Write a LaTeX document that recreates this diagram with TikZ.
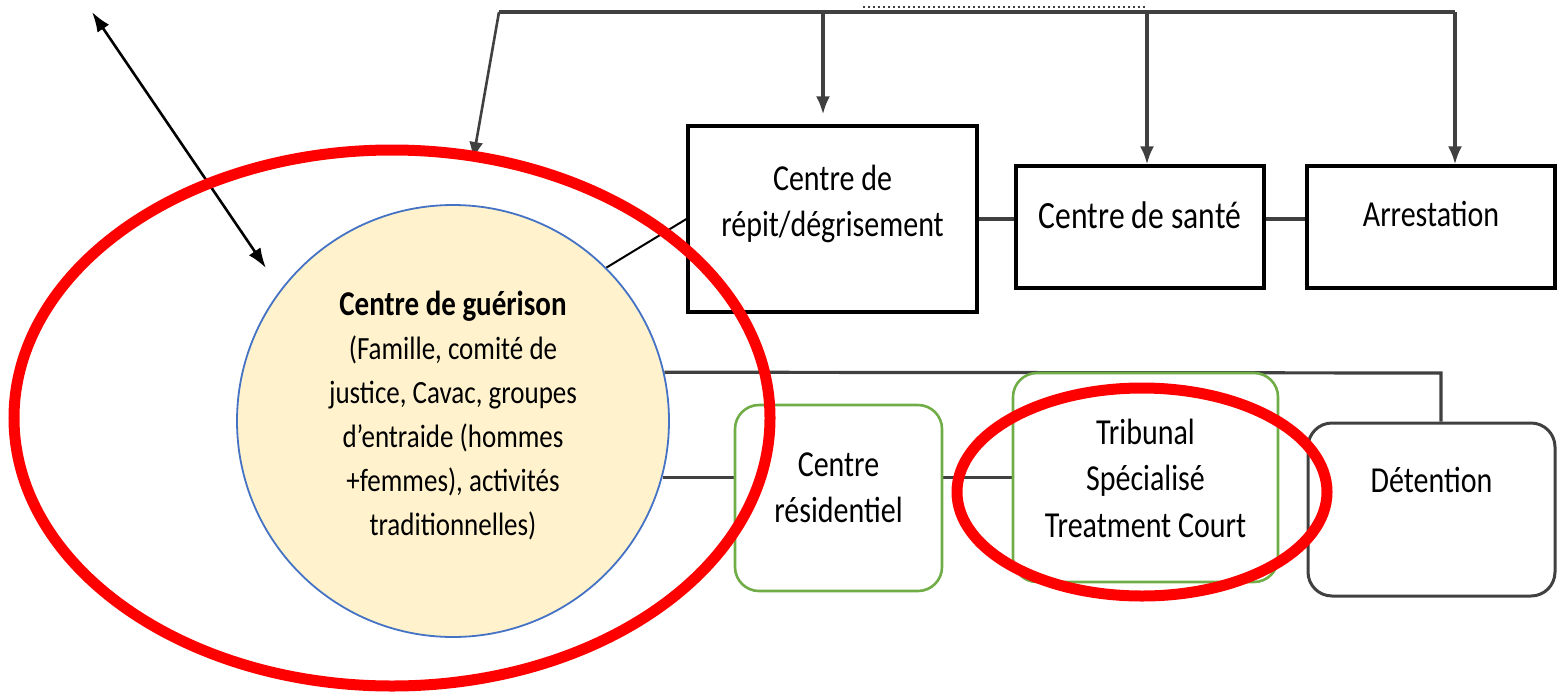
\documentclass[tikz,border=0pt]{standalone}
\usepackage{fontspec}
\setmainfont{Carlito}
\usepackage{graphicx}
\usetikzlibrary{arrows.meta,backgrounds}
\definecolor{darkline}{HTML}{404040}
\definecolor{boxgreen}{HTML}{70AD47}
\definecolor{circfill}{HTML}{FFF2CC}
\definecolor{circline}{HTML}{4472C4}
\definecolor{hlred}{HTML}{FF0000}
\newcommand{\vst}[2][1.22]{\scalebox{1}[#1]{\begin{tabular}{@{}c@{}}#2\end{tabular}}}
\begin{document}
\begin{tikzpicture}[x=0.5pt,y=-0.5pt,
  conn/.style={draw=darkline,line width=1.6pt},
  arr/.style={conn,-{Latex[length=9pt,width=7pt]}},
  sqbox/.style={draw=black,line width=1.6pt,fill=white,inner sep=0pt},
  gbox/.style={draw=boxgreen,line width=1.3pt,rounded corners=12pt,fill=white,inner sep=0pt},
  dbox/.style={draw=darkline,line width=1.5pt,rounded corners=12pt,fill=white,inner sep=0pt},
  txt/.style={font=\fontsize{15}{19}\selectfont,text=black,inner sep=0pt},
  txtc/.style={font=\fontsize{13.5}{18.3}\selectfont,text=black,inner sep=0pt},
  hl/.style={draw=hlred,line width=5.5pt}]
\useasboundingbox (0,0) rectangle (1557,691);

% nodes
\node[circle,draw=circline,line width=0.9pt,fill=circfill,minimum size=216pt,inner sep=0pt,
  label={[txtc,yshift=2pt]center:\vst[1.2]{{\fontsize{14.5}{18.3}\selectfont\bfseries Centre de guérison}\\(Famille, comité de\\justice, Cavac, groupes\\d’entraide (hommes\\+femmes), activités\\traditionnelles)}}] (guer) at (453,421) {};

\node[sqbox,minimum width=144.5pt,minimum height=93pt,
  label={[txt,yshift=7.5pt]center:\vst{Centre de\\répit/dégrisement}}] (repit) at (832.5,219) {};
\node[sqbox,minimum width=124pt,minimum height=61pt,
  label={[txt,font=\fontsize{15.8}{19}\selectfont,yshift=4pt]center:\vst{Centre de santé}}] (sante) at (1140,227) {};
\node[sqbox,minimum width=124pt,minimum height=61pt,
  label={[txt,yshift=5pt]center:\vst{Arrestation}}] (arrest) at (1431,227) {};

\node[gbox,minimum width=103.5pt,minimum height=93pt,
  label={[txt,yshift=4pt]center:\vst{Centre\\résidentiel}}] (res) at (838.5,498) {};
\node[gbox,minimum width=132.5pt,minimum height=104.5pt,
  label={[txt,yshift=-2pt]center:\vst{Tribunal\\Spécialisé\\Treatment Court}}] (trib) at (1145.5,477.5) {};
\node[dbox,minimum width=123.5pt,minimum height=86.5pt,
  label={[txt,yshift=13pt]center:\vst{Détention}}] (det) at (1431.5,509.5) {};

% connectors
\begin{scope}[on background layer]
  \coordinate (tl) at (499,12);
  \coordinate (tr) at (1455,12);
  \coordinate (tend) at (473,160);
  \coordinate (t1) at (823,12);
  \coordinate (t2) at (1147,12);
  \coordinate (bl) at (1441,373);
  \draw[conn,line width=2pt] (tr) -- (tl);
  \draw[arr,line width=1.3pt] (tl) -- (tend);
  \draw[darkline,line width=1.4pt,dash pattern=on 1pt off 1.5pt] (863,7) -- (1147,7);
  \draw[arr,shorten >=5pt] (t1) -- (t1 |- repit.north);
  \draw[arr] (t2) -- (t2 |- sante.north);
  \draw[arr] (tr) -- (tr |- arrest.north);
  \draw[black,line width=1pt] (guer.45) -- (repit.west);
  \draw[conn] (repit.east) -- (repit.east -| sante.west);
  \draw[conn] (sante.east |- repit.east) -- (arrest.west |- repit.east);
  \draw[conn] (guer.13) -- (bl) -- (bl |- det.north);
  \draw[conn] (guer.-15) -- (guer.-15 -| res.west);
  \draw[conn] (res.east |- trib.west) -- (trib.west);
\end{scope}

\coordinate (d1) at (92,12);
\coordinate (d2) at (266,268);
\draw[black,line width=1.3pt,{Latex[length=10pt,width=7pt]}-{Latex[length=10pt,width=7pt]}] (d1) -- (d2);

% highlights
\draw[hl] (392,418) ellipse [x radius=189pt, y radius=134pt];
\draw[hl] (1142,492) ellipse [x radius=92.5pt, y radius=52pt];
\end{tikzpicture}
\end{document}
